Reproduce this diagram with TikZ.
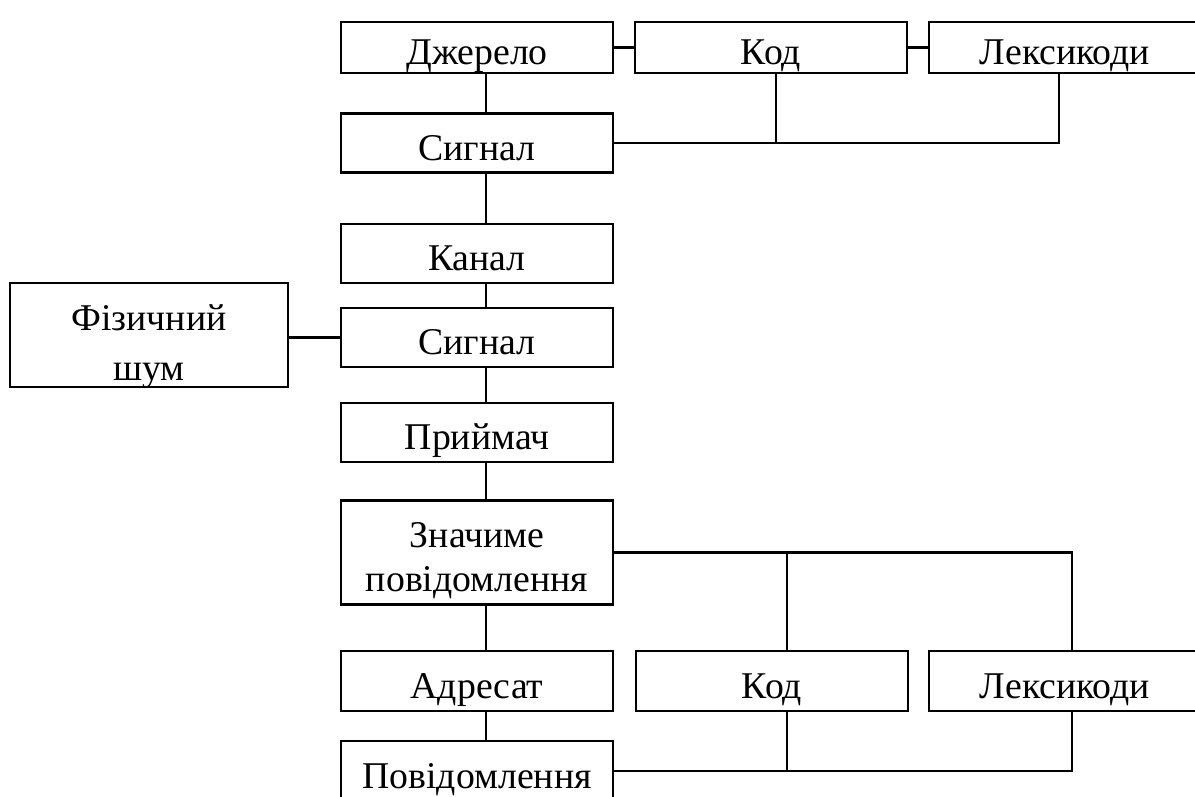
\documentclass[tikz,border=0pt]{standalone}
\usepackage{fontspec}
\setmainfont{Liberation Serif}
\usepackage{tikz}
\usetikzlibrary{calc}

\tikzset{
	blok/.style={draw,line width=1.2pt,rectangle,minimum width=272*0.02cm,minimum height=59*0.02cm,inner sep=0pt,align=center,font=\fontsize{21.5}{25}\selectfont},
	odyn/.style={blok,text height=19.5pt,text depth=0pt},
	zv/.style={line width=1.2pt}
}

\begin{document}
\begin{tikzpicture}[x=0.02cm,y=-0.02cm]
	\clip (0,0) rectangle (1195,796);
	\fill[white] (0,0) rectangle (1195,796);
	\coordinate (S) at (486,0);
	\coordinate (K1) at (776,0);
	\coordinate (L1) at (1059,0);
	\coordinate (K2) at (787,0);
	\coordinate (L2) at (1072,0);

	\node[odyn,minimum height=51*0.02cm] (dzherelo) at (477,47.5) {Джерело};
	\node[odyn,minimum height=51*0.02cm] (kod1) at (771,47.5) {Код};
	\node[odyn,minimum height=51*0.02cm] (leksykody1) at (1065,47.5) {Лексикоди};
	\node[odyn] (sygnal1) at (477,143) {Сигнал};
	\node[odyn] (kanal) at (477,253.5) {Канал};
	\node[blok,minimum width=278*0.02cm,minimum height=104*0.02cm,font=\fontsize{21.5}{28.5}\selectfont,text height=51.8pt,text depth=0pt] (shum) at (149,335) {Фізичний\\шум};
	\node[odyn] (sygnal2) at (477,337.5) {Сигнал};
	\node[odyn] (pryimach) at (477,432.5) {Приймач};
	\node[blok,minimum height=104*0.02cm,text height=44.4pt,text depth=0pt] (znachyme) at (477,552.5) {Значиме\\повідомлення};
	\node[odyn,minimum height=60*0.02cm] (adresat) at (477,681) {Адресат};
	\node[odyn,minimum height=60*0.02cm] (kod2) at (772,681) {Код};
	\node[odyn,minimum height=60*0.02cm] (leksykody2) at (1065,681) {Лексикоди};
	\node[odyn,minimum height=60*0.02cm] (povidomlennya) at (477,771) {Повідомлення};

	\draw[zv] (dzherelo) -- (kod1);
	\draw[zv] (kod1) -- (leksykody1);
	\draw[zv] (sygnal2.west) -- (sygnal2.west -| shum.east);

	\draw[zv] (dzherelo.south -| S) -- (sygnal1.north -| S);
	\draw[zv] (sygnal1.south -| S) -- (kanal.north -| S);
	\draw[zv] (kanal.south -| S) -- (sygnal2.north -| S);
	\draw[zv] (sygnal2.south -| S) -- (pryimach.north -| S);
	\draw[zv] (pryimach.south -| S) -- (znachyme.north -| S);
	\draw[zv] (znachyme.south -| S) -- (adresat.north -| S);
	\draw[zv] (adresat.south -| S) -- (povidomlennya.north -| S);

	\draw[zv] (sygnal1.east) -- (sygnal1.east -| L1) -- (leksykody1.south -| L1);
	\draw[zv] (sygnal1.east -| K1) -- (kod1.south -| K1);

	\draw[zv] (znachyme.east) -- (znachyme.east -| L2) -- (leksykody2.north -| L2);
	\draw[zv] (znachyme.east -| K2) -- (kod2.north -| K2);

	\draw[zv] (povidomlennya.east) -- (povidomlennya.east -| L2) -- (leksykody2.south -| L2);
	\draw[zv] (povidomlennya.east -| K2) -- (kod2.south -| K2);
\end{tikzpicture}
\end{document}
